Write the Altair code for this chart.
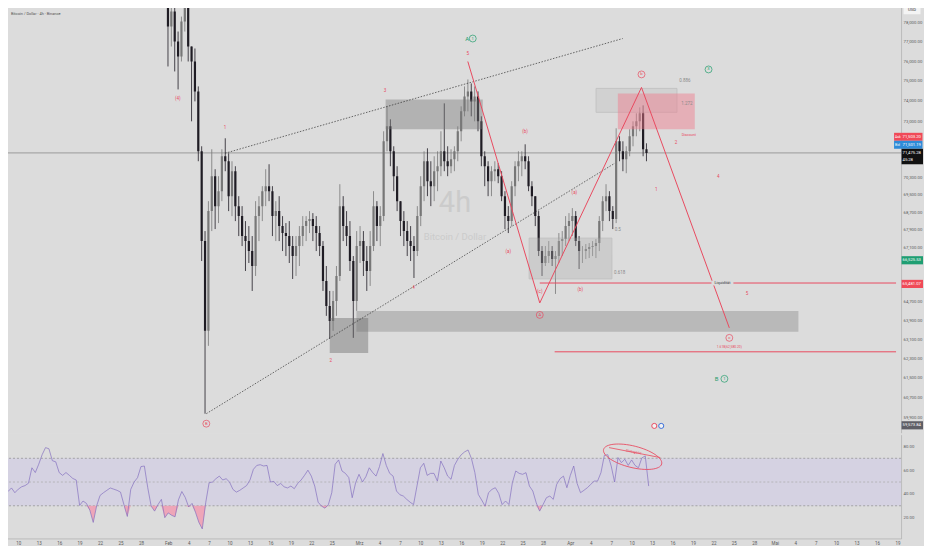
import altair as alt
import pandas as pd

BG = "#dcdcdc"
RED = "#e84a5f"
GREEN = "#1f9d6b"
TXT = "#5a5a5a"
GRAYL = "#8a8a8a"
FONT = "Roboto"
UP = "#777777"
DOWN = "#1f1c24"

# ---------------- candles (12h bars) ----------------
candle_start = "2026-01-31T00:00"
first_open = 80200
close = [79614, 77776, 78560, 77002, 76236, 78036, 78821, 76746, 75981, 74476,
         71554, 67384, 63457, 68747, 70371, 68977, 69670, 71316, 71078, 69438,
         70606, 68977, 68518, 67610, 67384, 66936, 66270, 68518, 68977, 69670,
         69903, 69670, 68518, 68747, 68063, 67746, 67610, 67160, 66713, 67160,
         67610, 68063, 68290, 68381, 68063, 67746, 67160, 65610, 64525, 63881,
         64740, 65829, 68977, 68063, 67610, 66491, 64740, 67160, 67384, 66491,
         66049, 67160, 68977, 68063, 68518, 72033, 72758, 71554, 70371, 69207,
         68290, 67836, 67384, 67160, 66936, 68518, 69903, 71078, 70136, 69903,
         70606, 70842, 71554, 71078, 70842, 71173, 71554, 72516, 73490, 74228,
         74476, 73981, 74228, 73001, 71316, 70842, 70136, 70606, 70700, 70371,
         69438, 68518, 68290, 69903, 70842, 71078, 71316, 71078, 69903, 69438,
         68518, 66936, 66403, 66713, 66936, 66580, 66713, 67384, 67474, 68063,
         68290, 68518, 67384, 66936, 66936, 67025, 67115, 67160, 67295, 68290,
         69207, 69438, 68747, 68381, 72033, 71554, 71173, 71554, 72275, 72758,
         73001, 73392, 71650, 71475]
high = [80683, 79614, 79085, 78821, 77518, 78297, 79349, 79085, 76746, 76644,
        74725, 71793, 67836, 69207, 71650, 70700, 70371, 71650, 72178, 71459,
        71078, 70842, 69438, 68977, 68290, 68063, 67610, 69207, 69438, 69903,
        70700, 70936, 69903, 69207, 69438, 68518, 68199, 68290, 67610, 67610,
        68063, 68518, 68518, 68747, 68655, 68518, 68063, 67384, 66270, 65174,
        65174, 66270, 69996, 69438, 68747, 68290, 66713, 67836, 68063, 67836,
        67160, 67836, 69670, 69207, 68977, 72516, 73735, 73099, 71793, 70842,
        69207, 68747, 68290, 68063, 67610, 68977, 70371, 71554, 71697, 71078,
        71316, 71554, 72516, 73883, 71793, 71650, 71793, 72758, 73735, 74725,
        75075, 74875, 74725, 74476, 73245, 71554, 71078, 70842, 71078, 70984,
        70606, 69670, 68977, 70136, 71078, 71554, 71554, 71889, 71316, 70136,
        69438, 68747, 67160, 67160, 67384, 67160, 66936, 67746, 67836, 68518,
        68655, 68885, 68747, 67610, 67160, 67250, 67295, 67384, 67474, 68518,
        69438, 69996, 69670, 68977, 72661, 72275, 72033, 71793, 72613, 73001,
        73392, 73686, 73784, 71937]
low = [79349, 75729, 76746, 75477, 74575, 75981, 77518, 75981, 73001, 73981,
       71078, 66491, 60039, 62825, 67836, 67927, 68199, 69207, 70606, 68747,
       68518, 68290, 67610, 67160, 66049, 66403, 65174, 65829, 67384, 68290,
       68977, 69207, 67610, 67384, 67384, 66936, 66713, 66403, 65697, 65829,
       66270, 67160, 67384, 67746, 67384, 66936, 66713, 65174, 64096, 63119,
       63457, 64096, 65610, 67384, 67160, 66049, 63161, 64310, 66403, 65829,
       65174, 65392, 66936, 67384, 67160, 68290, 71554, 70842, 69670, 68747,
       67610, 67160, 66713, 66491, 65741, 66713, 68063, 69207, 69438, 68977,
       69207, 69670, 70371, 70606, 70371, 70512, 70606, 71078, 72033, 73245,
       73490, 73245, 73001, 72516, 70842, 69903, 69438, 69438, 70136, 70043,
       69207, 67927, 67746, 68063, 69438, 70136, 70371, 70700, 69670, 68977,
       68063, 66713, 65829, 66270, 66403, 66270, 65044, 66403, 66713, 67160,
       67384, 67610, 67160, 66137, 66403, 66580, 66624, 66713, 66624, 66936,
       67836, 68747, 68290, 67927, 68199, 71078, 70606, 70512, 71316, 71793,
       72275, 72516, 71316, 71078]

# ---------------- RSI (12h samples) ----------------
rsi_start = "2026-01-07T12:00"
rsi = [43.8, 40.5, 42, 45, 41, 44, 46, 47, 49, 62,
       58, 65, 73, 79, 78, 68, 67, 58, 55.6, 58,
       55.6, 53, 51.7, 30.3, 34, 32, 26.3, 16, 30, 38.7,
       41, 43, 45, 44, 43, 41.5, 31, 21, 43.8, 50,
       53.7, 63, 63.5, 45.2, 29.7, 25.5, 31, 35.4, 20, 24,
       22, 20.7, 35, 42, 37, 29, 32, 24.6, 16, 10.5,
       32.5, 49.4, 50, 52.8, 55, 51.7, 52.8, 50, 43.8, 41.5,
       43, 45, 47, 51.7, 60.7, 64, 64.6, 63.5, 64, 50,
       50.5, 47, 48.8, 46, 45, 46.6, 44.4, 48.8, 51.7, 55.6,
       60, 55, 46.6, 33, 29.7, 28, 31, 41, 65, 68.6,
       59.3, 57.3, 53.7, 36.8, 49.4, 56.5, 50, 54.5, 62, 58,
       55, 63, 74, 64, 57.3, 55, 42.4, 39.3, 38.2, 35.4,
       33, 31, 46.6, 62, 65.8, 55.6, 57.3, 57.3, 50.8, 67.7,
       62, 55, 52.3, 64, 69.2, 73, 75.4, 77, 69.7, 57.9,
       39.6, 34.8, 29.7, 41, 43.8, 45.2, 40.4, 31, 34, 31,
       49.4, 59.3, 57.3, 56.5, 57.9, 46.6, 42.4, 32.5, 25.5, 31,
       36.8, 38.2, 35.4, 48, 52.8, 55, 45.2, 55.6, 63.5, 48.8,
       41, 43, 45.2, 48, 50.8, 50.8, 57.9, 72.5, 73, 63.5,
       50, 70.6, 66.3, 69.2, 64, 68.6, 64, 62, 70.3, 72,
       46.6]

# ---------------- axes ----------------
price_ticks = [78000, 77000, 76000, 75000, 74000, 73000, 70300, 69500, 68700,
               67900, 67100, 64700, 63900, 63100, 62300, 61500, 60700, 59900]
rsi_ticks = [80, 60, 40, 20]
month_names = ["Jan", "Feb", "Mrz", "Apr", "Mai"]
tick_days = {1: [10, 13, 16, 19, 22, 25, 28],
             2: [1, 4, 7, 10, 13, 16, 19, 22, 25],
             3: [1, 4, 7, 10, 13, 16, 19, 22, 25, 28],
             4: [1, 4, 7, 10, 13, 16, 19, 22, 25, 28],
             5: [1, 4, 7, 10, 13, 16, 19]}
x_start = "2026-01-07T11:13"
x_end = "2026-05-19T12:46"
price_dom = [59282, 79085]
rsi_dom = [2.5, 89.9]
last_price = 71475

# ---------------- zones ----------------
box_t0 = ["2026-03-04T19:00", "2026-02-28T11:00", "2026-02-24T12:00", "2026-03-26T02:00", "2026-04-05T00:30", "2026-04-08T06:00"]
box_t1 = ["2026-03-19T05:00", "2026-05-05T01:00", "2026-03-02T05:00", "2026-04-07T09:00", "2026-04-17T00:40", "2026-04-19T16:00"]
box_top = [74080, 64310, 64010, 67520, 74625, 74377]
box_bot = [72610, 63415, 62530, 65700, 73440, 72613]
box_fill = ["#7a7a7a", "#7a7a7a", "#6a6a6a", "#b0b0b0", "#b8b8b8", "#f07a8c"]
box_op = [0.42, 0.35, 0.42, 0.35, 0.3, 0.45]
box_stroke = ["transparent", "transparent", "transparent", "#8c8c8c", "#7c7c7c", "transparent"]

# trend lines (dotted)
tl_id = ["upper", "upper", "lower", "lower"]
tl_t = ["2026-02-08T23:20", "2026-04-08T23:20", "2026-02-06T04:34", "2026-04-07T19:12"]
tl_p = [71459, 77156, 60039, 70984]

# red zigzag
zz_t = ["2026-03-16T23:45", "2026-03-27T16:00", "2026-04-11T18:15", "2026-04-24T19:00"]
zz_p = [75981, 64654, 74675, 63584]

# red levels
lvl_t0 = ["2026-03-27T16:00", "2026-03-29T21:00"]
lvl_p = [65520, 62575]

# labels
lab_t = ["2026-02-01T23:15", "2026-02-08T23:20", "2026-02-24T15:20", "2026-03-04T16:30", "2026-03-08T22:20",
         "2026-03-16T23:45", "2026-03-16T22:00", "2026-03-23T00:00", "2026-03-25T11:30", "2026-03-27T16:00",
         "2026-04-01T19:12", "2026-04-02T16:20", "2026-04-08T05:45", "2026-04-08T12:45", "2026-04-18T04:50",
         "2026-04-18T12:00", "2026-04-18T18:40", "2026-04-16T21:00", "2026-04-13T22:50", "2026-04-23T04:00",
         "2026-04-27T10:00", "2026-04-24T19:00", "2026-04-22T21:40"]
lab_p = [74081, 72661, 62200, 74476, 65305,
         76337, 77156, 66892, 72468, 65130,
         69577, 65218, 67881, 65961, 74975,
         73833, 72323, 71937, 69716, 70324,
         65044, 62770, 61455]
lab_s = ["(4)", "1", "2", "3", "4",
         "5", "A", "(a)", "(b)", "(c)",
         "(a)", "(b)", "0.5", "0.618", "0.886",
         "1.272", "Discount", "2", "1", "4",
         "5", "1.618(62,580.20)", "B"]
lab_c = [RED, RED, RED, RED, RED,
         RED, GREEN, RED, RED, RED,
         RED, RED, GRAYL, GRAYL, GRAYL,
         GRAYL, RED, RED, RED, RED,
         RED, RED, GREEN]
lab_fs = [4.5, 4.5, 4.5, 4.5, 4.5,
          4.5, 6, 4.5, 4.5, 4.5,
          4.5, 4.5, 4.5, 4.5, 4.5,
          4.5, 3.6, 4.5, 4.5, 4.5,
          4.5, 3.3, 6]

circ_t = ["2026-02-06T04:34", "2026-03-17T17:20", "2026-03-27T16:00", "2026-04-11T18:15",
          "2026-04-21T17:00", "2026-04-24T19:00", "2026-04-24T01:30"]
circ_p = [59639, 77156, 64138, 75327, 75578, 63161, 61455]
circ_s = ["B", "1", "A", "b", "3", "c", "1"]
circ_c = [RED, GREEN, RED, RED, GREEN, RED, GREEN]

flag_t = ["2026-04-13T15:50", "2026-04-14T16:30"]
flag_p = [59550, 59550]
flag_c = [RED, "#3b6fd8"]

liq_t = "2026-04-23T18:30"
liq_p = 65520

wm_t = ["2026-03-15T02:00", "2026-03-15T02:00"]
wm_p = [69122, 67564]
wm_s = ["4h", "Bitcoin / Dollar"]
wm_fs = [29, 9.5]

# price tags on the axis
tagA_p = [72250, 71865]
tagA_c = ["#f04a58", "#2e8bd8"]
tagA_pre = ["Ask", "Bid"]
tagA_txt = ["71,503.20", "71,501.19"]
tagB_p = [66525, 65481, 59574]
tagB_c = ["#1e9e72", "#f04a58", "#5e5e66"]
tagB_txt = ["66,525.53", "65,481.07", "59,573.84"]
tagC_p = 71302
tagC_txt = ["71,475.28", "45:28"]
tagC_txt_p = [71475, 71149]
usd_p = 78664

# RSI annotations
ell_t = "2026-04-10T03:30"
ell_v = 71.3
div_t = ["2026-04-06T16:30", "2026-04-14T04:50"]
div_v = [79, 70.6]
divtxt_t = "2026-04-10T07:00"
divtxt_v = 75.4


def z(s):
    return s + ":00Z"


# ---------------- frames ----------------
t_c = pd.date_range(candle_start, periods=len(close), freq="12h").strftime("%Y-%m-%dT%H:%M:%SZ")
opens = [first_open] + close[:-1]
candles = pd.DataFrame({"t": list(t_c), "o": opens, "h": high, "l": low, "c": close})
candles["dir"] = ["up" if c >= o else "down" for o, c in zip(opens, close)]

t_r = pd.date_range(rsi_start, periods=len(rsi), freq="12h").strftime("%Y-%m-%dT%H:%M:%SZ")
rsi_df = pd.DataFrame({"t": list(t_r), "v": rsi, "lo": [min(v, 30) for v in rsi], "b": [30] * len(rsi)})

boxes = pd.DataFrame({"t0": [z(s) for s in box_t0], "t1": [z(s) for s in box_t1], "top": box_top,
                      "bot": box_bot, "fill": box_fill, "op": box_op, "st": box_stroke})
tl = pd.DataFrame({"id": tl_id, "t": [z(s) for s in tl_t], "p": tl_p})
zz = pd.DataFrame({"k": list(range(len(zz_t))), "t": [z(s) for s in zz_t], "p": zz_p})
lvl = pd.DataFrame({"t0": [z(s) for s in lvl_t0], "t1": [z(x_end)] * len(lvl_t0), "p": lvl_p})
labs = pd.DataFrame({"t": [z(s) for s in lab_t], "p": lab_p, "s": lab_s, "col": lab_c, "fs": lab_fs})
circ = pd.DataFrame({"t": [z(s) for s in circ_t], "p": circ_p, "s": circ_s, "col": circ_c})
flags = pd.DataFrame({"t": [z(s) for s in flag_t], "p": flag_p, "col": flag_c})
liq = pd.DataFrame({"t": [z(liq_t)], "p": [liq_p], "s": ["Liquidität"]})
wm = pd.DataFrame({"t": [z(s) for s in wm_t], "p": wm_p, "s": wm_s, "fs": wm_fs})
cur = pd.DataFrame({"p": [last_price]})
tagA = pd.DataFrame({"p": tagA_p, "col": tagA_c, "pre": tagA_pre, "s": tagA_txt})
tagB = pd.DataFrame({"p": tagB_p, "col": tagB_c, "s": tagB_txt})
tagC = pd.DataFrame({"p": [tagC_p]})
tagCt = pd.DataFrame({"p": tagC_txt_p, "s": tagC_txt})
usd = pd.DataFrame({"p": [usd_p], "s": ["USD"]})
title_df = pd.DataFrame({"s": ["Bitcoin / Dollar · 4h · Binance"]})

band = pd.DataFrame({"t0": [z(x_start)], "t1": [z(x_end)], "a": [30], "b": [70]})
rsi_lines = pd.DataFrame({"v": [70, 50, 30], "col": ["#8c8c8c", "#a8a8a8", "#8c8c8c"]})
ell = pd.DataFrame({"t": [z(ell_t)], "v": [ell_v]})
divl = pd.DataFrame({"t": [z(s) for s in div_t], "v": div_v})
divtxt = pd.DataFrame({"t": [z(divtxt_t)], "v": [divtxt_v], "s": ["Divergenz"]})


# ---------------- scales / axes ----------------
def dt(s):
    ts = pd.Timestamp(s)
    return alt.DateTime(year=ts.year, month=ts.month, date=ts.day, hours=ts.hour, minutes=ts.minute, utc=True)


xscale = alt.Scale(type="utc", domain=[dt(x_start), dt(x_end)])
yscale = alt.Scale(type="log", domain=price_dom, nice=False, zero=False)
rscale = alt.Scale(domain=rsi_dom, nice=False, zero=False)

axis_common = dict(title=None, grid=False, ticks=False, domain=True, domainColor="#b3b3b3", domainWidth=0.8,
                   labelColor=TXT, labelFont=FONT, labelOverlap=False, labelFlush=False)
yaxis = alt.Axis(orient="right", values=price_ticks, format=",.2f", labelFontSize=4.3, labelPadding=2,
                 labelAlign="left", labelBaseline="middle", **axis_common)
raxis = alt.Axis(orient="right", values=rsi_ticks, format=".2f", labelFontSize=4.3, labelPadding=2,
                 labelAlign="left", labelBaseline="middle", **axis_common)
tick_vals = [alt.DateTime(year=2026, month=m, date=d, utc=True) for m, ds in tick_days.items() for d in ds]
mexpr = "[" + ",".join("'%s'" % m for m in month_names) + "]"
xaxis = alt.Axis(values=tick_vals, labelExpr="utcdate(datum.value) == 1 ? %s[utcmonth(datum.value)] : '' + utcdate(datum.value)" % mexpr,
                 labelFontSize=4.5, labelPadding=2, **axis_common)


def X(f):
    return alt.X(f, type="temporal", scale=xscale, axis=None)


def XR(f):
    return alt.X(f, type="temporal", scale=xscale, axis=xaxis)


def Y(f):
    return alt.Y(f, type="quantitative", scale=yscale, axis=yaxis)


def YR(f):
    return alt.Y(f, type="quantitative", scale=rscale, axis=raxis)


rect_wide = "M-1,-0.28L1,-0.28L1,0.28L-1,0.28Z"
rect_small = "M-1,-0.38L1,-0.38L1,0.38L-1,0.38Z"
rect_tall = "M-1,-0.72L1,-0.72L1,0.72L-1,0.72Z"
rect_usd = "M-1,-0.55L1,-0.55L1,0.55L-1,0.55Z"
ellipse = "M-1,0A1,0.36,0,1,1,1,0A1,0.36,0,1,1,-1,0Z"

# ---------------- price pane ----------------
l_wm = alt.Chart(wm).mark_text(font=FONT, color="#cbcbcb", baseline="middle").encode(
    x=X("t"), y=Y("p"), text="s:N", size=alt.Size("fs:Q", scale=None, legend=None))
l_cur = alt.Chart(cur).mark_rule(color="#8a8a8a", strokeWidth=0.8).encode(y=Y("p"))
cscale = alt.Scale(domain=["up", "down"], range=[UP, DOWN])
l_wick = alt.Chart(candles).mark_rule(strokeWidth=0.8, clip=True).encode(
    x=X("t"), y=Y("l"), y2=alt.Y2("h"), color=alt.Color("dir:N", scale=cscale, legend=None))
l_body = alt.Chart(candles).mark_bar(size=2.2, clip=True).encode(
    x=X("t"), y=Y("o"), y2=alt.Y2("c"), color=alt.Color("dir:N", scale=cscale, legend=None))
l_box = alt.Chart(boxes).mark_rect(strokeWidth=0.8, clip=True).encode(
    x=X("t0"), x2=alt.X2("t1"), y=Y("top"), y2=alt.Y2("bot"),
    color=alt.Color("fill:N", scale=None), opacity=alt.Opacity("op:Q", scale=None, legend=None),
    stroke=alt.Stroke("st:N", scale=None))
l_tl = alt.Chart(tl).mark_line(strokeDash=[1.5, 1.5], color="#2f2f2f", strokeWidth=0.7, clip=True).encode(
    x=X("t"), y=Y("p"), detail="id:N")
l_zz = alt.Chart(zz).mark_line(color=RED, strokeWidth=1, clip=True).encode(
    x=X("t"), y=Y("p"), order="k:Q")
l_lvl = alt.Chart(lvl).mark_rule(color=RED, strokeWidth=1, clip=True).encode(
    x=X("t0"), x2=alt.X2("t1"), y=Y("p"))
l_liqbg = alt.Chart(liq).mark_point(shape="M-1,-0.22L1,-0.22L1,0.22L-1,0.22Z", filled=True, fill=BG,
                                     opacity=1, size=22 * 22, strokeWidth=0).encode(x=X("t"), y=Y("p"))
l_liq = alt.Chart(liq).mark_text(font=FONT, fontSize=3.9, color="#333333", baseline="middle").encode(
    x=X("t"), y=Y("p"), text="s:N")
l_lab = alt.Chart(labs).mark_text(font=FONT, baseline="middle").encode(
    x=X("t"), y=Y("p"), text="s:N", color=alt.Color("col:N", scale=None),
    size=alt.Size("fs:Q", scale=None, legend=None))
l_circ = alt.Chart(circ).mark_point(shape="circle", filled=False, size=48, strokeWidth=0.7, opacity=1).encode(
    x=X("t"), y=Y("p"), color=alt.Color("col:N", scale=None))
l_circt = alt.Chart(circ).mark_text(font=FONT, fontSize=4.2, baseline="middle").encode(
    x=X("t"), y=Y("p"), text="s:N", color=alt.Color("col:N", scale=None))
l_flag = alt.Chart(flags).mark_point(shape="circle", filled=True, size=26, strokeWidth=1, fill="#f2f2f2",
                                     opacity=1).encode(
    x=X("t"), y=Y("p"), stroke=alt.Stroke("col:N", scale=None))
l_tagA = alt.Chart(tagA).mark_point(shape=rect_wide, filled=True, size=28.5 * 28.5, opacity=1).encode(
    x=alt.value(909.25), y=Y("p"), color=alt.Color("col:N", scale=None))
l_tagApre = alt.Chart(tagA).mark_text(font=FONT, fontSize=3.4, color="white", align="left", baseline="middle").encode(
    x=alt.value(896), y=Y("p"), text="pre:N")
l_tagAt = alt.Chart(tagA).mark_text(font=FONT, fontSize=4.2, color="white", align="left", baseline="middle").encode(
    x=alt.value(903.5), y=Y("p"), text="s:N")
l_tagB = alt.Chart(tagB).mark_point(shape=rect_small, filled=True, size=21.5 * 21.5, opacity=1).encode(
    x=alt.value(913.25), y=Y("p"), color=alt.Color("col:N", scale=None))
l_tagBt = alt.Chart(tagB).mark_text(font=FONT, fontSize=4.2, color="white", align="left", baseline="middle").encode(
    x=alt.value(903.5), y=Y("p"), text="s:N")
l_tagC = alt.Chart(tagC).mark_point(shape=rect_tall, filled=True, size=21.5 * 21.5, opacity=1, color="#111111").encode(
    x=alt.value(913.25), y=Y("p"))
l_tagCt = alt.Chart(tagCt).mark_text(font=FONT, fontSize=4.2, color="white", align="left", baseline="middle").encode(
    x=alt.value(903.5), y=Y("p"), text="s:N")
l_usd = alt.Chart(usd).mark_point(shape=rect_usd, filled=True, size=17 * 17, opacity=1, color="#f4f4f4").encode(
    x=alt.value(913), y=Y("p"))
l_usdt = alt.Chart(usd).mark_text(font=FONT, fontSize=4.2, color="#333333", baseline="middle").encode(
    x=alt.value(913), y=Y("p"), text="s:N")
l_title = alt.Chart(title_df).mark_text(font=FONT, fontSize=3.9, color="#555555", align="left", baseline="middle").encode(
    x=alt.value(10), y=alt.value(12), text="s:N")

price = alt.layer(l_wm, l_cur, l_wick, l_body, l_box, l_tl, l_zz, l_lvl, l_liqbg, l_liq, l_lab,
                  l_circ, l_circt, l_flag, l_tagA, l_tagApre, l_tagAt, l_tagB, l_tagBt, l_tagC, l_tagCt,
                  l_usd, l_usdt, l_title).properties(width=902, height=432)

# ---------------- RSI pane ----------------
r_band = alt.Chart(band).mark_rect(color="#d5d2e2", opacity=1).encode(
    x=XR("t0"), x2=alt.X2("t1"), y=YR("a"), y2=alt.Y2("b"))
r_rules = alt.Chart(rsi_lines).mark_rule(strokeDash=[2, 2], strokeWidth=0.7).encode(
    y=YR("v"), color=alt.Color("col:N", scale=None))
r_fill = alt.Chart(rsi_df).mark_area(color="#f0a0b4", opacity=0.9, clip=True).encode(
    x=XR("t"), y=YR("lo"), y2=alt.Y2("b"))
r_line = alt.Chart(rsi_df).mark_line(color="#8470c0", strokeWidth=0.7, clip=True).encode(
    x=XR("t"), y=YR("v"))
r_ell = alt.Chart(ell).mark_point(shape=ellipse, filled=False, size=3600, angle=14, strokeWidth=0.8,
                                  color=RED, opacity=1).encode(x=XR("t"), y=YR("v"))
r_div = alt.Chart(divl).mark_line(color=RED, strokeWidth=0.8).encode(x=XR("t"), y=YR("v"))
r_divt = alt.Chart(divtxt).mark_text(font=FONT, fontSize=3.6, color=RED, angle=10, baseline="middle").encode(
    x=XR("t"), y=YR("v"), text="s:N")

rsi_chart = alt.layer(r_band, r_rules, r_fill, r_line, r_ell, r_div, r_divt).properties(width=902, height=104)

chart = alt.vconcat(price, rsi_chart, spacing=0).properties(
    padding={"left": -8, "top": -8, "right": 0, "bottom": 0},
    background=BG,
).configure_view(strokeWidth=0).configure(font=FONT)

chart.save("out.html", embed_options={"renderer": "svg", "actions": False})
